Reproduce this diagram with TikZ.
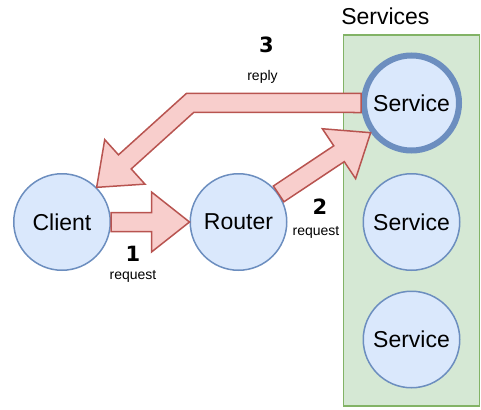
\documentclass[tikz,border=0pt]{standalone}
\usepackage{fontspec}
\setmainfont{Liberation Sans}
\newfontfamily\numfont{DejaVu Sans}
\usetikzlibrary{positioning, calc, fit, backgrounds}

\definecolor{bluefill}{HTML}{DAE8FC}
\definecolor{blueline}{HTML}{6C8EBF}
\definecolor{redfill}{HTML}{F8CECC}
\definecolor{redline}{HTML}{B85450}
\definecolor{greenfill}{HTML}{D5E8D4}
\definecolor{greenline}{HTML}{82B366}

\newcommand{\fatarrow}[2]{%
  \coordinate (fa-b) at ($(#2)!38pt!(#1)$);
  \draw[bigarrow] ($(#1)!9.5pt!90:(#2)$) -- ($(fa-b)!9.5pt!90:(#2)$)
    -- ($(fa-b)!30pt!90:(#2)$) -- (#2) -- ($(fa-b)!30pt!-90:(#2)$)
    -- ($(fa-b)!9.5pt!-90:(#2)$) -- ($(#1)!9.5pt!-90:(#2)$) -- cycle;}

\begin{document}
\begin{tikzpicture}[
  x=1pt, y=1pt,
  proc/.style={circle, draw=blueline, fill=bluefill, line width=1.5pt,
    minimum size=96.5pt, font=\fontsize{23}{27}\selectfont},
  active/.style={proc, line width=6pt, minimum size=95pt},
  bigarrow/.style={draw=redline, fill=redfill, line width=1.5pt, line join=miter},
  num/.style={font=\numfont\bfseries\fontsize{21}{24}\selectfont},
  small/.style={font=\fontsize{14}{16}\selectfont},
  node distance=19.5pt
]
\useasboundingbox (0,0) rectangle (481,-409);

\node[proc] (client) at (62,-222) {Client};
\node[proc, right=78.5pt of client] (router) {Router};
\node[proc, right=75pt of router] (svc2) {Service};
\node[active, above=of svc2] (svc1) {Service};
\node[proc, below=of svc2] (svc3) {Service};

\begin{scope}[on background layer]
  \node[fit=(svc1)(svc3), inner sep=17.5pt, draw=greenline, fill=greenfill,
    line width=1.5pt] (box) {};
\end{scope}
\node[font=\fontsize{23}{27}\selectfont, anchor=base west] (boxlabel)
  at ($(box.north west)+(-5,10)$) {Services};

\fatarrow{client.east}{router.west}
\fatarrow{router.35}{svc1.216}

\coordinate (bend) at (190,-103);
\coordinate (rb) at ($(client.45)!38pt!(bend)$);
\coordinate (o1) at ($(svc1.west)!9.5pt!-90:(bend)$);
\coordinate (o2) at ($(bend)!9.5pt!90:(svc1.west)$);
\coordinate (o3) at ($(bend)!9.5pt!-90:(client.45)$);
\coordinate (o4) at ($(rb)!9.5pt!-90:(client.45)$);
\coordinate (i1) at ($(svc1.west)!9.5pt!90:(bend)$);
\coordinate (i2) at ($(bend)!9.5pt!-90:(svc1.west)$);
\coordinate (i3) at ($(bend)!9.5pt!90:(client.45)$);
\coordinate (i4) at ($(rb)!9.5pt!90:(client.45)$);
\draw[bigarrow] (o1) -- (intersection of o1--o2 and o3--o4) -- (o4)
  -- ($(rb)!30pt!-90:(client.45)$) -- (client.45) -- ($(rb)!30pt!90:(client.45)$)
  -- (i4) -- (intersection of i1--i2 and i3--i4) -- (i1) -- cycle;

\node[num, anchor=base] (n1) at (133,-261) {1};
\node[small, anchor=base] (t1) at (133,-279.5) {request};
\node[num, anchor=base] (n2) at (320,-214) {2};
\node[small, anchor=base] (t2) at (316,-235.5) {request};
\node[num, anchor=base] (n3) at (266.5,-53) {3};
\node[small, anchor=base] (t3) at (262.5,-81) {reply};
\end{tikzpicture}
\end{document}
